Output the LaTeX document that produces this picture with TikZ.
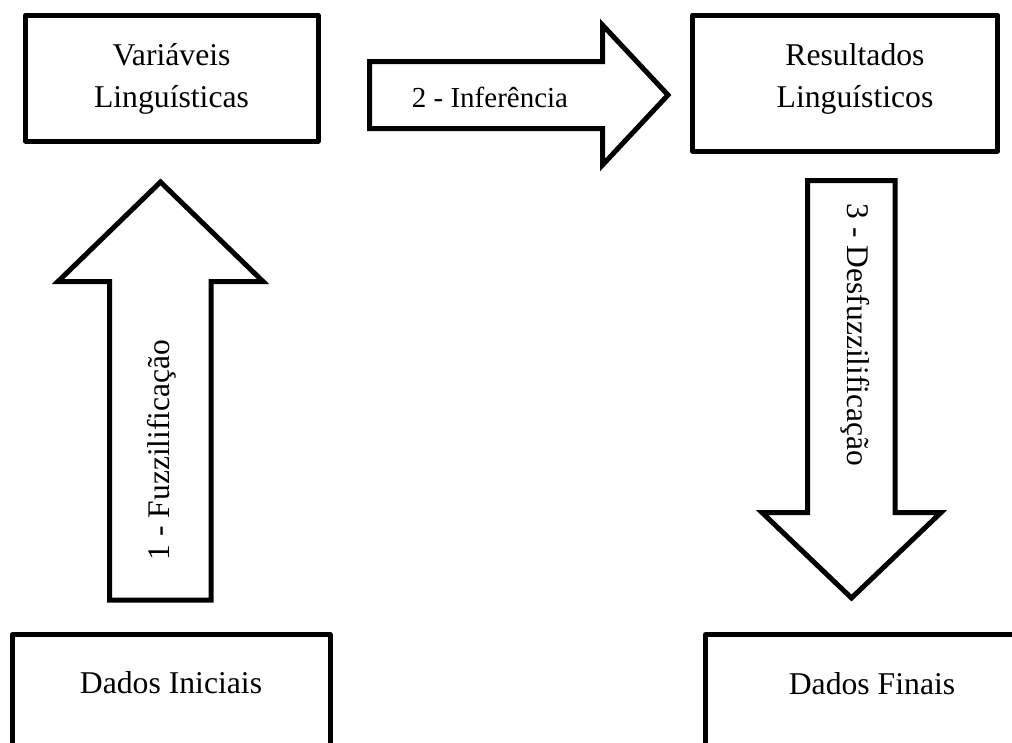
\documentclass[tikz,border=0pt]{standalone}
\usepackage{fontspec}
\setmainfont{Liberation Serif}
\begin{document}
\begin{tikzpicture}[x=1pt,y=-1pt,
  boxline/.style={draw=black,line width=5pt,line join=round,fill=white},
  arrowline/.style={draw=black,line width=5pt,line join=miter,fill=white},
  lbl/.style={inner sep=0pt,font=\fontsize{31.7}{38}\selectfont,anchor=base},
  albl/.style={inner sep=0pt,font=\fontsize{31.5}{38}\selectfont},
  ilbl/.style={inner sep=0pt,font=\fontsize{29}{35}\selectfont,anchor=base}]
\useasboundingbox (0,0) rectangle (1012,742);
\clip (0,0) rectangle (1012,742);
\fill[white] (0,0) rectangle (1012,742);
% boxes
\draw[boxline] (25.5,15) rectangle (318,141);
\coordinate (vl) at (171.5,78);
\draw[boxline] (692.5,15) rectangle (997.5,151);
\coordinate (rl) at (845,83);
\draw[boxline] (12.5,634.5) rectangle (330,790);
\coordinate (di) at (171,700);
\draw[boxline] (705.5,634.5) rectangle (1040,790);
\coordinate (df) at (872,700);
% box texts
\node[lbl] (vl1) at (171.5,65) {Variáveis};
\node[lbl] (vl2) at (171.5,107) {Linguísticas};
\node[lbl] (rl1) at (855,65) {Resultados};
\node[lbl] (rl2) at (855,107) {Linguísticos};
\node[lbl] (dit) at (171,693) {Dados Iniciais};
\node[lbl] (dft) at (872,694) {Dados Finais};
% up arrow
\draw[arrowline] (109.5,600) -- (109.5,281.5) -- (58,281.5) -- (160.5,182) -- (263,281.5) -- (211,281.5) -- (211,600) -- cycle;
\node[albl,rotate=90] (fz) at (162,450) {1 - Fuzzilificação};
% right arrow
\draw[arrowline] (369.5,61.5) -- (602.5,61.5) -- (602.5,25) -- (668,95) -- (602.5,165) -- (602.5,128.5) -- (369.5,128.5) -- cycle;
\node[ilbl] (inf) at (490,107) {2 - Inferência};
% down arrow
\draw[arrowline] (807.5,180.5) -- (895,180.5) -- (895,512.5) -- (941,512.5) -- (851.5,598) -- (762,512.5) -- (807.5,512.5) -- cycle;
\node[albl,rotate=-90] (dz) at (855,335) {3 - Desfuzzilificação};
\end{tikzpicture}
\end{document}
